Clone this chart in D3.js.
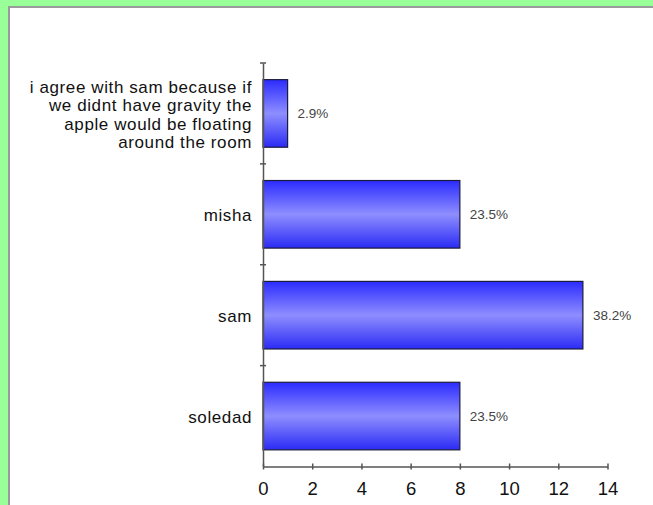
<html>
<head>
<script src="https://d3js.org/d3.v7.min.js"></script>
<style>
  body { margin: 0; background: #99ff99; }
  svg { display: block; }
</style>
</head>
<body>
<svg width="653" height="505"></svg>
<script>
// data
var categories = ['i agree with sam because if\nwe didnt have gravity the\napple would be floating\naround the room', 'misha', 'sam', 'soledad'];
var counts = [1, 8, 13, 8];
var percents = ['2.9%', '23.5%', '38.2%', '23.5%'];
var xTicks = [0, 2, 4, 6, 8, 10, 12, 14];

var svg = d3.select('svg');

// white panel with grey edge on the green page
svg.append('rect')
  .attr('x', 8).attr('y', 6).attr('width', 660).attr('height', 520)
  .style('fill', '#9a9a9a');
svg.append('rect')
  .attr('x', 10).attr('y', 8).attr('width', 660).attr('height', 520)
  .style('fill', '#ffffff');

var plotLeft = 263, plotRight = 607.5, plotTop = 63, plotBottom = 466.5;

var x = d3.scaleLinear().domain([0, 14]).range([plotLeft, plotRight]);
var y = d3.scaleBand().domain(categories).range([plotTop, plotBottom]).paddingInner(0.33).paddingOuter(0.165);
var yb = d3.scaleBand().domain(categories).range([plotTop, plotBottom]);

// bar gradient
var grad = svg.append('defs').append('linearGradient')
  .attr('id', 'barGrad').attr('x1', 0).attr('y1', 0).attr('x2', 0).attr('y2', 1);
grad.append('stop').attr('offset', '0%').style('stop-color', '#2b2bff');
grad.append('stop').attr('offset', '50%').style('stop-color', '#8e8eff');
grad.append('stop').attr('offset', '100%').style('stop-color', '#2b2bf5');

// bars
svg.append('g')
  .selectAll('rect')
  .data(categories)
  .enter()
  .append('rect')
  .attr('x', x(0))
  .attr('y', function (d) { return y(d); })
  .attr('width', function (d, i) { return x(counts[i]) - x(0); })
  .attr('height', y.bandwidth())
  .style('fill', 'url(#barGrad)')
  .style('stroke', '#1c1c3c')
  .style('stroke-width', 1.2);

// value labels
svg.append('g')
  .selectAll('text')
  .data(categories)
  .enter()
  .append('text')
  .attr('x', function (d, i) { return x(counts[i]) + 10; })
  .attr('y', function (d) { return y(d) + y.bandwidth() / 2; })
  .attr('dy', '0.35em')
  .style('font-family', 'Liberation Sans, Arial, sans-serif')
  .style('font-size', '13.5px')
  .style('fill', '#444')
  .text(function (d, i) { return percents[i]; });

// y axis line with ticks at band boundaries
var yAxis = svg.append('g')
  .attr('transform', 'translate(' + plotLeft + ',0)')
  .call(d3.axisLeft(yb).tickSize(0).tickFormat(''));
yAxis.select('.domain').style('stroke', '#555').style('stroke-width', 1.5);
var bounds = categories.map(function (d) { return yb(d); });
yAxis.selectAll('.bnd')
  .data(bounds)
  .enter()
  .append('line')
  .attr('x1', -3).attr('x2', 3)
  .attr('y1', function (d) { return d; })
  .attr('y2', function (d) { return d; })
  .style('stroke', '#555').style('stroke-width', 1.5);

// category labels (multi-line)
var labels = svg.append('g')
  .selectAll('text')
  .data(categories)
  .enter()
  .append('text')
  .attr('text-anchor', 'end')
  .style('font-family', 'Liberation Sans, Arial, sans-serif')
  .style('font-size', '17px')
  .style('letter-spacing', '0.6px')
  .style('fill', '#111');
labels.each(function (d) {
  var lines = d.split('\n');
  var cy = y(d) + y.bandwidth() / 2 + 1;
  var lh = 18.5;
  var t = d3.select(this);
  lines.forEach(function (ln, k) {
    t.append('tspan')
      .attr('x', 252)
      .attr('y', cy + (k - (lines.length - 1) / 2) * lh)
      .attr('dy', '0.35em')
      .text(ln);
  });
});

// x axis
var xAxis = svg.append('g')
  .attr('transform', 'translate(0,' + plotBottom + ')')
  .call(d3.axisBottom(x).tickValues(xTicks).tickSize(3).tickSizeOuter(0).tickPadding(12));
xAxis.select('.domain').style('stroke', '#555').style('stroke-width', 1.5);
xAxis.selectAll('.tick line').attr('y1', -3).style('stroke', '#555').style('stroke-width', 1.5);
xAxis.selectAll('.tick text')
  .style('font-family', 'Liberation Sans, Arial, sans-serif')
  .style('font-size', '18.5px')
  .style('fill', '#111');
</script>
</body>
</html>
